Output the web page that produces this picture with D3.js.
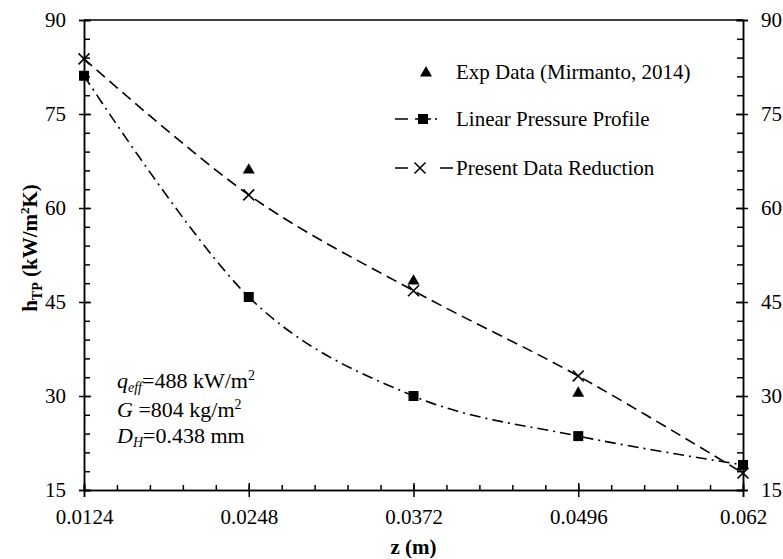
<!DOCTYPE html>
<html>
<head>
<meta charset="utf-8">
<script src="https://cdnjs.cloudflare.com/ajax/libs/d3/7.8.5/d3.min.js"></script>
<style>
  body { margin: 0; background: #fff; }
  svg { display: block; }
</style>
</head>
<body>
<div id="chart"></div>
<script>
// data
var zTicks = [0.0124, 0.0248, 0.0372, 0.0496, 0.062],
    zTickLabels = ['0.0124', '0.0248', '0.0372', '0.0496', '0.062'],
    hTicks = [15, 30, 45, 60, 75, 90],
    zPoints = [0.0124, 0.0248, 0.0372, 0.0496, 0.062],
    expZ = [0.0248, 0.0372, 0.0496],
    expH = [66.2, 48.5, 30.6],
    linearH = [81.1, 45.8, 30.0, 23.6, 19.0],
    presentH = [83.8, 62.1, 46.8, 33.2, 17.7],
    legendNames = ['Exp Data (Mirmanto, 2014)', 'Linear Pressure Profile', 'Present Data Reduction'];

var width = 783, height = 559,
    margin = {top: 20, right: 40, bottom: 69, left: 84},
    serif = '"Liberation Serif", "Times New Roman", serif';

var svg = d3.select('#chart').append('svg')
    .attr('width', width)
    .attr('height', height)
    .attr('font-family', serif);

var x = d3.scaleLinear().domain([0.0124, 0.062]).range([margin.left, width - margin.right]),
    y = d3.scaleLinear().domain([15, 90]).range([height - margin.bottom, margin.top]);

var minorX = d3.range(0, 21).map(function (i) { return 0.0124 + i * 0.00248; }),
    minorY = d3.range(15, 91, 3);

// top border
svg.append('line')
    .attr('x1', x(0.0124)).attr('x2', x(0.062))
    .attr('y1', y(90)).attr('y2', y(90))
    .style('stroke', '#000').style('stroke-width', 1.5);

function styleAxis(g) {
    g.attr('font-family', serif).attr('font-size', 21);
    g.select('.domain').style('stroke', '#000').style('stroke-width', 1.5);
    g.selectAll('.tick line').style('stroke', '#000').style('stroke-width', 1.5);
    g.selectAll('text').style('fill', '#000');
}

// minor ticks (inside)
svg.append('g').attr('transform', 'translate(0,' + y(15) + ')')
    .call(d3.axisBottom(x).tickValues(minorX).tickSize(-5).tickFormat(''))
    .call(styleAxis);
svg.append('g').attr('transform', 'translate(' + x(0.0124) + ',0)')
    .call(d3.axisLeft(y).tickValues(minorY).tickSize(-6).tickFormat(''))
    .call(styleAxis);
svg.append('g').attr('transform', 'translate(' + x(0.062) + ',0)')
    .call(d3.axisRight(y).tickValues(minorY).tickSize(-6).tickFormat(''))
    .call(styleAxis);

// major ticks (crossing) with labels
var xAxis = svg.append('g').attr('transform', 'translate(0,' + y(15) + ')')
    .call(d3.axisBottom(x).tickValues(zTicks).tickSize(7).tickPadding(12)
        .tickFormat(function (d, i) { return zTickLabels[i]; }))
    .call(styleAxis);
xAxis.selectAll('.tick line').attr('y1', -7);

var yAxisL = svg.append('g').attr('transform', 'translate(' + x(0.0124) + ',0)')
    .call(d3.axisLeft(y).tickValues(hTicks).tickSize(5).tickPadding(13))
    .call(styleAxis);
yAxisL.selectAll('.tick line').attr('x1', 7);

var yAxisR = svg.append('g').attr('transform', 'translate(' + x(0.062) + ',0)')
    .call(d3.axisRight(y).tickValues(hTicks).tickSize(5).tickPadding(13))
    .call(styleAxis);
yAxisR.selectAll('.tick line').attr('x1', -7);

// curves
var line = d3.line()
    .x(function (d) { return x(d[0]); })
    .y(function (d) { return y(d[1]); })
    .curve(d3.curveCatmullRom.alpha(0));

var linearData = zPoints.map(function (z, i) { return [z, linearH[i]]; }),
    presentData = zPoints.map(function (z, i) { return [z, presentH[i]]; }),
    expData = expZ.map(function (z, i) { return [z, expH[i]]; });

var dashDot = '11,5,2,5',
    dashed = '11,6';

svg.append('path').datum(linearData)
    .attr('d', line)
    .style('fill', 'none').style('stroke', '#000').style('stroke-width', 1.6)
    .style('stroke-dasharray', dashDot);

svg.append('path').datum(presentData)
    .attr('d', line)
    .style('fill', 'none').style('stroke', '#000').style('stroke-width', 1.6)
    .style('stroke-dasharray', dashed);

var square = d3.symbol().type(d3.symbolSquare).size(100),
    triangle = d3.symbol().type(d3.symbolTriangle).size(62),
    cross = d3.symbol().type(d3.symbolX).size(80);

svg.selectAll('.sq').data(linearData).enter().append('path')
    .attr('class', 'sq')
    .attr('transform', function (d) { return 'translate(' + x(d[0]) + ',' + y(d[1]) + ')'; })
    .attr('d', square)
    .style('fill', '#000');

svg.selectAll('.tri').data(expData).enter().append('path')
    .attr('class', 'tri')
    .attr('transform', function (d) { return 'translate(' + x(d[0]) + ',' + (y(d[1]) + 1) + ')'; })
    .attr('d', triangle)
    .style('fill', '#000');

svg.selectAll('.cr').data(presentData).enter().append('path')
    .attr('class', 'cr')
    .attr('transform', function (d) { return 'translate(' + x(d[0]) + ',' + y(d[1]) + ')'; })
    .attr('d', cross)
    .style('fill', 'none').style('stroke', '#000').style('stroke-width', 1.6);

// legend
var legend = svg.append('g').attr('transform', 'translate(395,0)'),
    legendY = [72, 119, 168];

legend.append('path').attr('d', triangle)
    .attr('transform', 'translate(31,' + (legendY[0] + 1) + ')').style('fill', '#000');

legend.append('line').attr('x1', 0).attr('x2', 58).attr('y1', legendY[1]).attr('y2', legendY[1])
    .style('stroke', '#000').style('stroke-width', 1.6).style('stroke-dasharray', '13,7,16,4,2,20');
legend.append('path').attr('d', square)
    .attr('transform', 'translate(28,' + legendY[1] + ')').style('fill', '#000');

legend.append('line').attr('x1', 0).attr('x2', 58).attr('y1', legendY[2]).attr('y2', legendY[2])
    .style('stroke', '#000').style('stroke-width', 1.6).style('stroke-dasharray', '13,32,13');
legend.append('path').attr('d', cross)
    .attr('transform', 'translate(25,' + legendY[2] + ')')
    .style('fill', 'none').style('stroke', '#000').style('stroke-width', 1.6);

legend.selectAll('.lt').data(legendNames).enter().append('text')
    .attr('class', 'lt')
    .attr('x', 61)
    .attr('y', function (d, i) { return legendY[i] + 7; })
    .attr('font-size', 21)
    .text(function (d) { return d; });

// annotation
var note = svg.append('text').attr('x', 117).attr('y', 388).attr('font-size', 22);
note.append('tspan').style('font-style', 'italic').text('q');
note.append('tspan').style('font-style', 'italic').attr('font-size', 14).attr('dy', 4).text('eff');
note.append('tspan').attr('dy', -4).text('=488 kW/m');
note.append('tspan').attr('font-size', 14).attr('dy', -8).text('2');

var note2 = svg.append('text').attr('x', 117).attr('y', 417).attr('font-size', 22);
note2.append('tspan').style('font-style', 'italic').text('G');
note2.append('tspan').text(' =804 kg/m');
note2.append('tspan').attr('font-size', 14).attr('dy', -8).text('2');

var note3 = svg.append('text').attr('x', 117).attr('y', 443).attr('font-size', 22);
note3.append('tspan').style('font-style', 'italic').text('D');
note3.append('tspan').style('font-style', 'italic').attr('font-size', 14).attr('dy', 4).text('H');
note3.append('tspan').attr('dy', -4).text('=0.438 mm');

// axis titles
svg.append('text')
    .attr('x', x(0.0372)).attr('y', 554)
    .attr('text-anchor', 'middle')
    .attr('font-size', 21).attr('font-weight', 'bold')
    .text('z (m)');

var yt = svg.append('text')
    .attr('transform', 'translate(37,248) rotate(-90)')
    .attr('text-anchor', 'middle')
    .attr('font-size', 21).attr('font-weight', 'bold');
yt.append('tspan').text('h');
yt.append('tspan').attr('font-size', 14).attr('dy', 5).text('TP');
yt.append('tspan').attr('dy', -5).text(' (kW/m');
yt.append('tspan').attr('font-size', 13).attr('dy', -8).text('2');
yt.append('tspan').attr('dy', 8).text('K)');
</script>
</body>
</html>
